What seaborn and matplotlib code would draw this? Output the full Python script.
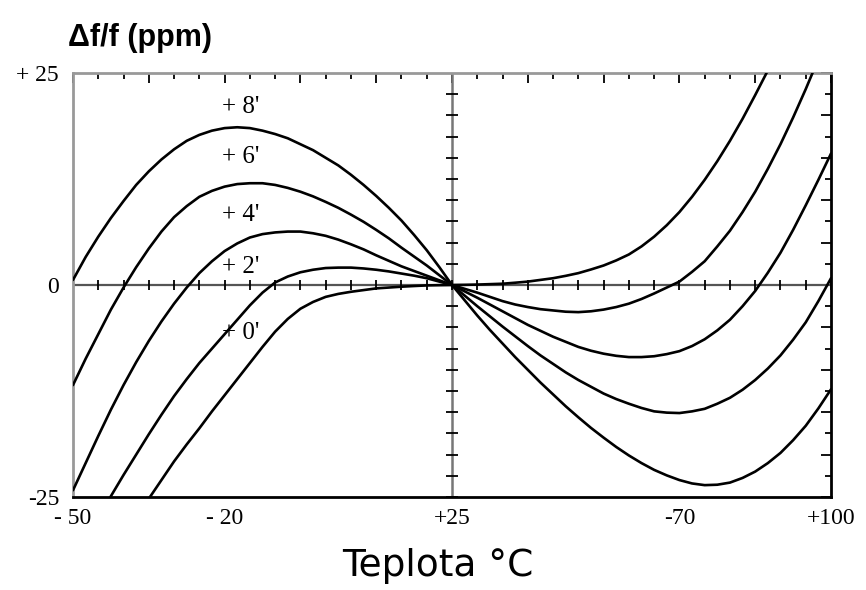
import matplotlib
matplotlib.use("Agg")
import matplotlib.pyplot as plt
from matplotlib.ticker import FixedLocator, MultipleLocator
import pandas as pd
import seaborn as sns

# temperature grid (deg C)
temps = [-50, -47.5, -45, -42.5, -40, -37.5, -35, -32.5, -30, -27.5, -25, -22.5, -20, -17.5, -15, -12.5,
         -10, -7.5, -5, -2.5, 0, 2.5, 5, 7.5, 10, 12.5, 15, 17.5, 20, 22.5, 25, 27.5,
         30, 32.5, 35, 37.5, 40, 42.5, 45, 47.5, 50, 52.5, 55, 57.5, 60, 62.5,
         65, 67.5, 70, 72.5, 75, 77.5, 80, 82.5, 85, 87.5, 90, 92.5, 95, 97.5, 100]

# frequency deviation in ppm for each cut angle
dev_0 = [-40.6, -37.9, -35.2, -32.6, -30.0, -27.6, -25.2, -23.0, -20.8, -18.8, -16.9, -14.9, -13.0, -11.1, -9.2, -7.3,
         -5.5, -4.0, -2.8, -2.0, -1.4, -1.05, -0.8, -0.6, -0.4, -0.3, -0.2, -0.12, -0.05, -0.02, 0.0, 0.02,
         0.05, 0.1, 0.15, 0.27, 0.4, 0.6, 0.8, 1.08, 1.4, 1.83, 2.3, 2.9, 3.6, 4.55,
         5.7, 7.05, 8.6, 10.4, 12.4, 14.6, 17.0, 19.6, 22.4, 25.3, 28.4, 31.6, 35.0, 38.5, 42.2]
dev_2 = [-32.6, -30.0, -27.4, -24.9, -22.4, -20.0, -17.6, -15.3, -13.1, -11.1, -9.2, -7.5, -5.8, -4.1, -2.4, -0.9,
         0.3, 1.0, 1.5, 1.8, 2.0, 2.05, 2.05, 1.95, 1.8, 1.6, 1.35, 1.1, 0.8, 0.4, 0.0, -0.45,
         -0.9, -1.4, -1.9, -2.3, -2.6, -2.85, -3.0, -3.15, -3.2, -3.1, -2.9, -2.6, -2.2, -1.65,
         -1.0, -0.3, 0.4, 1.55, 2.8, 4.55, 6.4, 8.6, 11.0, 13.7, 16.6, 19.75, 23.1, 26.65, 30.4]
dev_4 = [-24.2, -21.0, -17.8, -14.7, -11.8, -9.1, -6.6, -4.3, -2.2, -0.3, 1.4, 2.8, 4.0, 4.9, 5.6, 6.0,
         6.2, 6.3, 6.3, 6.1, 5.8, 5.35, 4.8, 4.2, 3.5, 2.85, 2.2, 1.65, 1.1, 0.55, 0.0, -0.75,
         -1.5, -2.3, -3.1, -3.9, -4.7, -5.4, -6.1, -6.7, -7.3, -7.75, -8.1, -8.35, -8.5, -8.5,
         -8.4, -8.15, -7.8, -7.2, -6.4, -5.35, -4.1, -2.5, -0.7, 1.45, 3.8, 6.5, 9.4, 12.4, 15.5]
dev_6 = [-11.8, -8.7, -5.8, -2.9, -0.3, 2.1, 4.3, 6.3, 8.0, 9.3, 10.4, 11.1, 11.6, 11.9, 12.0, 12.0,
         11.8, 11.45, 11.0, 10.45, 9.8, 9.1, 8.3, 7.45, 6.5, 5.5, 4.4, 3.35, 2.3, 1.15, 0.0, -1.25,
         -2.5, -3.7, -4.9, -6.05, -7.2, -8.3, -9.3, -10.3, -11.2, -12.0, -12.8, -13.45, -14.0, -14.5,
         -14.9, -15.05, -15.1, -14.9, -14.6, -14.0, -13.3, -12.35, -11.2, -9.85, -8.3, -6.45, -4.4, -1.9, 0.8]
dev_8 = [0.6, 3.3, 5.7, 7.9, 9.9, 11.8, 13.4, 14.8, 16.0, 17.0, 17.7, 18.2, 18.5, 18.6, 18.5, 18.2,
         17.8, 17.3, 16.6, 15.9, 15.0, 14.1, 13.0, 11.8, 10.5, 9.1, 7.6, 5.9, 4.1, 2.1, 0.0, -1.8,
         -3.6, -5.3, -6.9, -8.5, -10.0, -11.5, -12.9, -14.3, -15.6, -16.85, -18.0, -19.1, -20.1, -21.0,
         -21.8, -22.45, -23.0, -23.4, -23.6, -23.55, -23.3, -22.75, -22.0, -21.0, -19.8, -18.3, -16.6, -14.55, -12.3]

curve_names = ["+ 0'", "+ 2'", "+ 4'", "+ 6'", "+ 8'"]
label_ppm = [-5.7, 2.1, 8.3, 15.1, 21.0]

x_tick_vals = [-50, -20, 25, 70, 100]
x_tick_labels = ["- 50", "- 20", "+25", "-70", "+100"]
y_tick_vals = [-25, 0, 25]
y_tick_labels = ["-25", "0", "+ 25"]

df = pd.DataFrame({"T": temps, curve_names[0]: dev_0, curve_names[1]: dev_2,
                   curve_names[2]: dev_4, curve_names[3]: dev_6, curve_names[4]: dev_8})
df_long = df.melt(id_vars="T", var_name="cut", value_name="ppm")

sns.set_style("white")
serif = ["Liberation Serif", "DejaVu Serif"]

fig, ax = plt.subplots(figsize=(8.66, 5.9), dpi=100)
fig.subplots_adjust(left=0.0843, right=0.9596, bottom=0.1576, top=0.8763)

# axis cross through (25, 0)
ax.axhline(0, color="#555555", lw=1.6, zorder=1)
ax.axvline(25, color="#777777", lw=1.8, zorder=1)

sns.lineplot(data=df_long, x="T", y="ppm", hue="cut", palette=["black"] * 5,
             legend=False, lw=1.9, estimator=None, sort=False, ax=ax, zorder=3)

ax.set_xlim(-50, 100)
ax.set_ylim(-25, 25)

# ticks: major every 15 C / 5 ppm, minor every 5 C / 2.5 ppm
major_x = list(range(-50, 101, 15))
ax.xaxis.set_major_locator(FixedLocator(major_x))
ax.xaxis.set_minor_locator(MultipleLocator(5))
ax.set_xticklabels([x_tick_labels[x_tick_vals.index(v)] if v in x_tick_vals else "" for v in major_x])
major_y = list(range(-25, 26, 5))
ax.yaxis.set_major_locator(FixedLocator(major_y))
ax.yaxis.set_minor_locator(MultipleLocator(2.5))
ax.set_yticklabels([y_tick_labels[y_tick_vals.index(v)] if v in y_tick_vals else "" for v in major_y])

ax.tick_params(which="both", direction="in", top=True, right=True, color="black", width=1.3)
ax.tick_params(which="major", length=7)
ax.tick_params(which="minor", length=4.5)
ax.tick_params(axis="x", pad=8, labelsize=17, labelcolor="black")
ax.tick_params(axis="y", pad=10, labelsize=17, labelcolor="black")
for lab in ax.get_xticklabels() + ax.get_yticklabels():
    lab.set_family(serif)

# small cross ticks on the centre lines
minor_x = list(range(-50, 101, 5))
minor_y = [v / 2 for v in range(-50, 51, 5)]
ax.plot(minor_x, [0] * len(minor_x), ls="none", marker="|", ms=7, mew=1.3, color="black", zorder=2)
ax.plot([25] * len(minor_y), minor_y, ls="none", marker="_", ms=9, mew=1.3, color="black", zorder=2)

for side in ["top", "left"]:
    ax.spines[side].set_color("#999999")
    ax.spines[side].set_linewidth(2)
for side in ["bottom", "right"]:
    ax.spines[side].set_color("black")
    ax.spines[side].set_linewidth(2)

for name, yv in zip(curve_names, label_ppm):
    ax.text(-20.5, yv, name, ha="left", va="center", fontsize=18, family=serif,
            color="black", zorder=4)

fig.text(0.079, 0.935, "Δf/f (ppm)", fontsize=22, ha="left", va="center", color="black",
         fontweight="bold", family=["Liberation Sans", "DejaVu Sans"])
fig.text(0.506, 0.040, "Teplota °C", fontsize=27, ha="center", va="center", color="black",
         family=["DejaVu Sans"])
ax.set_xlabel("")
ax.set_ylabel("")

fig.savefig("out.png", dpi=100)
